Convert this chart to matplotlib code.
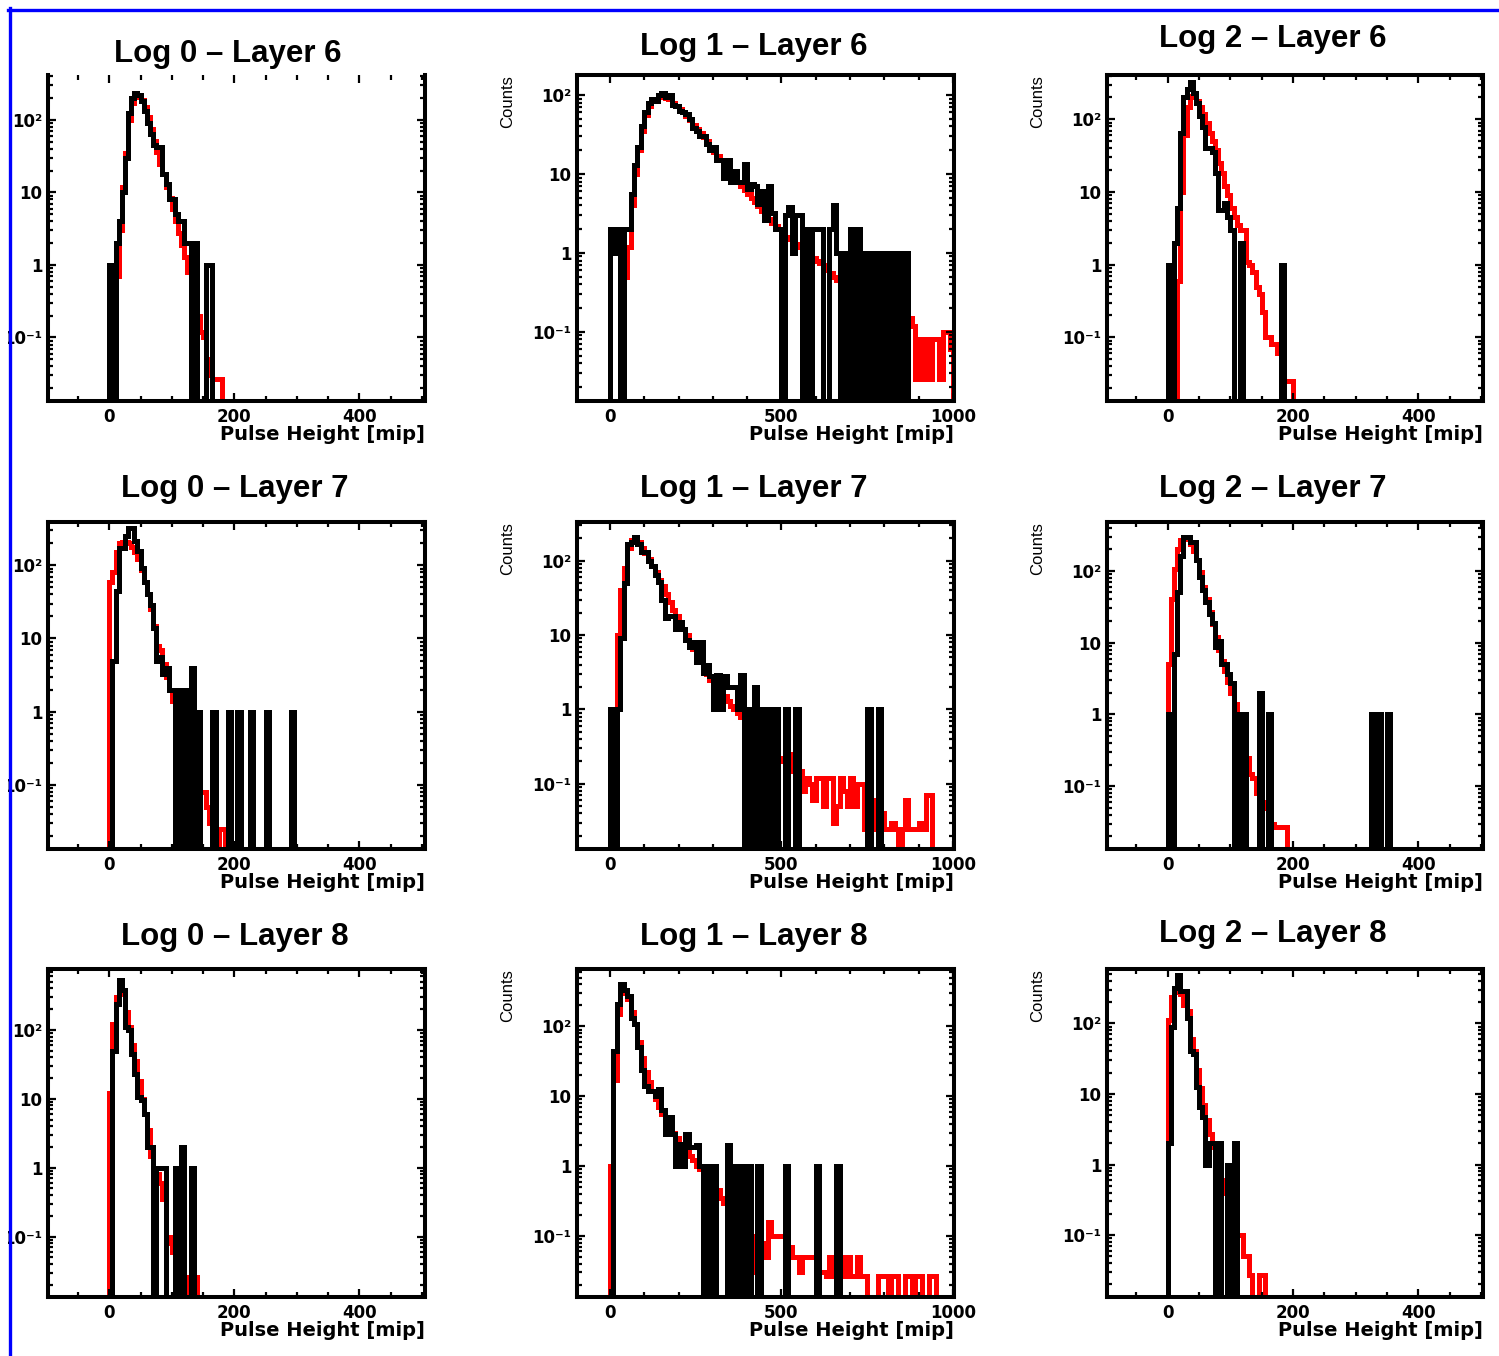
import numpy as np
import matplotlib
matplotlib.use("Agg")
import matplotlib.pyplot as plt
from matplotlib import font_manager
from matplotlib.lines import Line2D
from matplotlib.patches import Rectangle
from matplotlib.ticker import (FixedLocator, LogLocator, MultipleLocator,
                               FuncFormatter, NullFormatter)

plt.rcParams["font.family"] = ["DejaVu Sans"]
plt.rcParams["font.weight"] = "bold"

# bin widths [mip]
BW_NARROW = 5    # Log 0 / Log 2
BW_WIDE = 10     # Log 1

# ---- Log 0 (0..500 mip) ----
data_l0_6 = [1, 0, 2, 4, 10, 30, 125, 200, 235, 220,
             180, 135, 90, 65, 45, 42, 42, 18, 13, 8,
             8, 5, 4, 4, 2, 2, 0, 2, 0, 0,
             0, 1, 1]
mc_l0_6 = [0, 0, 0.7, 3, 12, 35, 100, 170, 210, 215,
           190, 150, 110, 75, 52, 36, 25, 18, 12, 8.5,
           6, 4, 2.8, 1.9, 1.3, 0.8, 0.5, 0.3, 0.2, 0.12,
           0.1, 0.05, 0.03, 0.027, 0.027, 0.027]

data_l0_7 = [0, 5, 45, 170, 170, 250, 320, 320, 215, 155,
             93, 60, 40, 29, 14, 5, 5.5, 3.3, 4, 2,
             2, 0, 2, 0, 2, 0, 4, 0, 1, 0,
             0, 0, 0, 1, 0, 0, 0, 0, 1, 0,
             0, 1, 0, 0, 0, 1, 0, 0, 0, 0,
             1, 0, 0, 0, 0, 0, 0, 0, 1]
mc_l0_7 = [60, 80, 150, 200, 210, 210, 200, 180, 150, 120,
           85, 60, 40, 25, 15, 8, 7, 4.5, 3, 2,
           1.4, 1, 0.7, 0.5, 0.4, 0.3, 0.2, 0.15, 0.1, 0.08,
           0.08, 0.05, 0.03, 0.025, 0, 0.025, 0.025]

data_l0_8 = [0, 50, 240, 530, 380, 110, 100, 45, 23, 10.6,
             9.6, 6, 2, 2, 0, 1, 1, 1, 0, 0,
             0, 1, 0, 2, 0, 0, 1]
mc_l0_8 = [12, 120, 300, 420, 330, 180, 110, 60, 35, 18,
           10, 6, 3.5, 1.5, 0.9, 0.8, 0.6, 0.35, 0.08, 0.1,
           0.06, 0.1, 0, 0, 0.026, 0, 0, 0.026]

# ---- Log 1 (0..1000 mip) ----
data_l1_6 = [2, 1, 2, 0, 2, 2, 5.5, 13, 22, 40,
             60, 78, 88, 85, 100, 105, 95, 100, 75, 72,
             62, 60, 58, 50, 38, 35, 30, 30, 24, 20,
             22, 15, 15, 9, 15, 8, 11, 8, 8, 13.5,
             6.5, 7.5, 7, 4.2, 6, 2.6, 7, 3.2, 2, 2,
             0, 3, 3.8, 1, 3, 3, 0, 2, 0, 2,
             2, 2, 0, 0, 2, 4, 1, 0, 1, 0,
             2, 0, 2, 0, 1, 0, 1, 0, 1, 0,
             1, 0, 1, 0, 1, 0, 1, 0]
mc_l1_6 = [0, 0, 0, 0.2, 0.5, 1.2, 4, 10, 20, 35,
           55, 72, 85, 90, 95, 95, 92, 88, 80, 72,
           66, 60, 54, 48, 42, 37, 33, 29, 26, 22,
           19, 17, 15, 13, 11.5, 10, 9, 8, 7, 6.2,
           5.5, 5, 4.4, 3.9, 3.4, 3, 2.7, 2.4, 2.2, 2,
           1.8, 1.6, 1.5, 1.4, 1.3, 1.2, 1.1, 1, 0.9, 0.85,
           0.8, 0.75, 0.7, 0.6, 0.55, 0.5, 0.45, 0.4, 0.35, 0.3,
           0.28, 0.4, 0.25, 0.22, 0.2, 0.18, 0.17, 0.15, 0.14, 0.13,
           0.12, 0.11, 0.1, 0.1, 0.09, 0.09, 0.08, 0.15, 0.12, 0.025,
           0.08, 0.025, 0.08, 0.025, 0.08, 0.08, 0.025, 0.1, 0.1, 0.06]

data_l1_7 = [1, 0, 1, 9, 50, 170, 180, 210, 170, 130,
             130, 100, 85, 65, 52, 30, 17, 18, 18, 12,
             15, 12, 8.7, 7, 8, 4.3, 8, 3.1, 4, 2.8,
             1, 2.9, 1, 2.8, 2, 2, 2, 1, 2.9, 0,
             1, 0, 2, 0, 1, 0, 1, 0, 1, 0,
             0, 1, 0, 0, 1, 0, 0, 0, 0, 0,
             0, 0, 0, 0, 0, 0, 0, 0, 0, 0,
             0, 0, 0, 0, 0, 1, 0, 0, 1]
mc_l1_7 = [0, 0.8, 10, 40, 80, 150, 190, 200, 180, 150,
           125, 105, 85, 70, 55, 45, 36, 28, 22, 18,
           15, 12, 10, 8, 6.5, 5.3, 4.3, 3.6, 3, 2.5,
           2.2, 1.9, 1.7, 1.5, 1.3, 1.1, 1, 0.9, 0.8, 0.7,
           0.6, 0.55, 0.5, 0.45, 0.4, 0.35, 0.3, 0.25, 0.3, 0.22,
           0.2, 0.3, 0.15, 0.25, 0.2, 0.15, 0.08, 0.12, 0.1, 0.06,
           0.12, 0.12, 0.05, 0.12, 0.12, 0.03, 0.05, 0.12, 0.08, 0.05,
           0.12, 0.05, 0.1, 0.1, 0.025, 0.06, 0.025, 0.06, 0.025, 0.04,
           0.025, 0.025, 0.03, 0.025, 0, 0.025, 0.06, 0.025, 0.025, 0.025,
           0.03, 0.025, 0.07, 0.07]

data_l1_8 = [0, 45, 210, 410, 330, 270, 130, 110, 50, 24,
             14, 12, 12, 10, 12.8, 6.3, 2.9, 5, 2.9, 1,
             2.1, 1, 2.9, 1.9, 1.9, 2, 1, 0, 1, 0,
             1, 0, 0, 0, 2, 0, 1, 0, 1, 0,
             1, 0, 0, 1, 0, 0, 0, 0, 0, 0,
             0, 1, 0, 0, 0, 0, 0, 0, 0, 0,
             1, 0, 0, 0, 0, 0, 1]
mc_l1_8 = [1, 17, 150, 300, 320, 250, 160, 110, 60, 35,
           22, 16, 12, 9, 7, 5.5, 4.5, 3.5, 3, 2.5,
           2.1, 1.8, 1.6, 1.4, 1.2, 1, 0.9, 0.8, 0.7, 0.6,
           0.5, 0.45, 0.35, 0.3, 0.25, 0.2, 0.2, 0.18, 0.15, 0.18,
           0.06, 0.1, 0.03, 0.13, 0.08, 0.05, 0.16, 0.1, 0.1, 0.1,
           0.1, 0.07, 0.07, 0.05, 0.05, 0.03, 0.05, 0.05, 0.05, 0.05,
           0.05, 0.03, 0.03, 0.027, 0.05, 0.027, 0.05, 0.05, 0.027, 0.05,
           0.027, 0.027, 0.05, 0.027, 0.027, 0, 0, 0, 0.027, 0.027,
           0.027, 0, 0.027, 0.027, 0, 0, 0.027, 0.027, 0, 0.027,
           0.027, 0, 0, 0.027, 0.027]

# ---- Log 2 (0..500 mip) ----
data_l2_6 = [1, 0, 2, 6, 65, 200, 260, 330, 230, 165,
             110, 78, 40, 40, 35, 18, 5.6, 5.6, 7, 4.5,
             3, 0, 0, 2, 0, 0, 0, 0, 0, 0,
             0, 0, 0, 0, 0, 0, 1]
mc_l2_6 = [0, 0, 0, 0.6, 10, 60, 150, 210, 200, 180,
           150, 120, 90, 65, 50, 38, 25, 18, 12, 9,
           6, 4.5, 3.5, 3, 3, 1.1, 1, 0.8, 0.5, 0.4,
           0.22, 0.1, 0.1, 0.08, 0.08, 0.06, 0.03, 0.025, 0.025, 0.025]

data_l2_7 = [1, 0, 7, 50, 160, 300, 300, 250, 250, 140,
             83, 54, 37, 25, 19, 8.6, 10.7, 5, 5, 3.7,
             2.7, 0, 1, 0, 1, 0, 0, 0, 0, 2,
             0, 0, 1, 0, 0, 0, 0, 0, 0, 0,
             0, 0, 0, 0, 0, 0, 0, 0, 0, 0,
             0, 0, 0, 0, 0, 0, 0, 0, 0, 0,
             0, 0, 0, 0, 0, 1, 0, 1, 0, 0,
             1]
mc_l2_7 = [5, 40, 105, 200, 270, 290, 280, 240, 190, 140,
           95, 60, 40, 27, 18, 12, 8, 5.5, 4, 2.8,
           2, 1.4, 1, 0.6, 0.4, 0.25, 0.15, 0.13, 0.08, 0.1,
           0.06, 0.05, 0.03, 0.03, 0.027, 0.027, 0.027, 0.027]

data_l2_8 = [2, 90, 320, 480, 290, 290, 120, 40, 37, 12.6,
             6.5, 4.7, 1, 2, 2, 0, 2, 0, 0, 1,
             0, 2, 0]
mc_l2_8 = [110, 240, 280, 320, 260, 180, 150, 60, 40, 22,
           12, 7, 4.3, 2.7, 1.8, 1.3, 0.9, 0.6, 0.4, 0.16,
           0.15, 0.12, 0.1, 0.1, 0.05, 0.05, 0.027, 0, 0, 0.027,
           0.027]

titles = [["Log 0 \u2013 Layer 6", "Log 1 \u2013 Layer 6", "Log 2 \u2013 Layer 6"],
          ["Log 0 \u2013 Layer 7", "Log 1 \u2013 Layer 7", "Log 2 \u2013 Layer 7"],
          ["Log 0 \u2013 Layer 8", "Log 1 \u2013 Layer 8", "Log 2 \u2013 Layer 8"]]
data_sets = [[data_l0_6, data_l1_6, data_l2_6],
             [data_l0_7, data_l1_7, data_l2_7],
             [data_l0_8, data_l1_8, data_l2_8]]
mc_sets = [[mc_l0_6, mc_l1_6, mc_l2_6],
           [mc_l0_7, mc_l1_7, mc_l2_7],
           [mc_l0_8, mc_l1_8, mc_l2_8]]
y_top = [[417, 179, 407],
         [390, 331, 480],
         [765, 664, 589]]
Y_BOTTOM = 0.0133
x_range = [(-98, 505), (-96, 1003), (-97, 503)]
x_major = [[0, 200, 400], [0, 500, 1000], [0, 200, 400]]
x_minor = [50, 100, 50]
bin_width = [BW_NARROW, BW_WIDE, BW_NARROW]

# layout in pixels
W, H = 1499, 1356
col_px = [(48, 425), (577, 954), (1107, 1483)]
row_px = [(75, 401), (522, 849), (969, 1297)]
title_cx = [[228, 754, 1273], [235, 754, 1273], [235, 754, 1273]]
title_base = [[62, 55, 47], [497, 497, 497], [945, 945, 942]]

FLOOR = 1e-4
DECADES = {0.1: "10\u207b\u00b9", 1: "1", 10: "10", 100: "10\u00b2"}

installed = {f.name for f in font_manager.fontManager.ttflist}
if "Liberation Sans Narrow" in installed:
    counts_font, counts_size = "Liberation Sans Narrow", 14.5
else:
    counts_font, counts_size = "Liberation Sans", 12

fig = plt.figure(figsize=(W / 100, H / 100), dpi=100)

for r in range(3):
    for c in range(3):
        x0, x1 = col_px[c]
        y0, y1 = row_px[r]
        ax = fig.add_axes([x0 / W, 1 - y1 / H, (x1 - x0) / W, (y1 - y0) / H])

        bw = bin_width[c]
        for vals, col, z in ((mc_sets[r][c], "#ff0000", 1.5),
                             (data_sets[r][c], "black", 1.8)):
            v = np.asarray(vals, dtype=float)
            edges = np.arange(len(v) + 1) * bw
            ax.stairs(np.where(v > 0, v, FLOOR), edges, baseline=FLOOR,
                      color=col, linewidth=3.6, joinstyle="miter", zorder=z)

        ax.set_yscale("log")
        ax.set_ylim(Y_BOTTOM, y_top[r][c])
        ax.set_xlim(*x_range[c])

        ax.xaxis.set_major_locator(FixedLocator(x_major[c]))
        ax.xaxis.set_minor_locator(MultipleLocator(x_minor[c]))
        ax.yaxis.set_major_locator(FixedLocator([0.1, 1, 10, 100]))
        ax.yaxis.set_minor_locator(LogLocator(base=10, subs=np.arange(2, 10), numticks=20))
        ax.yaxis.set_major_formatter(FuncFormatter(lambda v, p: DECADES.get(round(v, 3), "")))
        ax.yaxis.set_minor_formatter(NullFormatter())

        ax.tick_params(which="both", direction="in", top=True, right=True,
                       width=1.6, labelsize=12)
        ax.tick_params(which="major", length=6)
        ax.tick_params(which="minor", length=3.5)
        ax.tick_params(axis="x", which="major", pad=5)
        ax.tick_params(axis="y", which="major", pad=4)

        for s in ax.spines.values():
            s.set_linewidth(2.9)
        if r == 0 and c == 0:
            ax.spines["top"].set_visible(False)

        ax.annotate("Pulse Height [mip]", xy=(1, 0), xycoords="axes fraction",
                    xytext=(0, -28), textcoords="offset points",
                    ha="right", va="baseline", fontsize=14, fontweight="bold")
        if c > 0:
            ax.annotate("Counts", xy=(0, 1), xycoords="axes fraction",
                        xytext=(-50, 0), textcoords="offset points",
                        rotation=90, ha="center", va="top",
                        family=counts_font, fontweight="normal", fontsize=counts_size)

        fig.text(title_cx[r][c] / W, 1 - title_base[r][c] / H, titles[r][c],
                 ha="center", va="baseline", family="Liberation Sans",
                 fontweight="bold", fontsize=22.5)

# slide frame
fig.add_artist(Rectangle((0, 0), 8 / W, 1, transform=fig.transFigure,
                         facecolor="white", edgecolor="none", zorder=10))
fig.add_artist(Rectangle((0, 1 - 8 / H), 1, 8 / H, transform=fig.transFigure,
                         facecolor="white", edgecolor="none", zorder=10))
fig.add_artist(Line2D([9.5 / W, 9.5 / W], [0, 1 - 8 / H], transform=fig.transFigure,
                      color="#0000ff", linewidth=2.4, zorder=11))
fig.add_artist(Line2D([8 / W, 1], [1 - 9.5 / H, 1 - 9.5 / H], transform=fig.transFigure,
                      color="#0000ff", linewidth=2.4, zorder=11))

fig.savefig("out.png", dpi=100)
